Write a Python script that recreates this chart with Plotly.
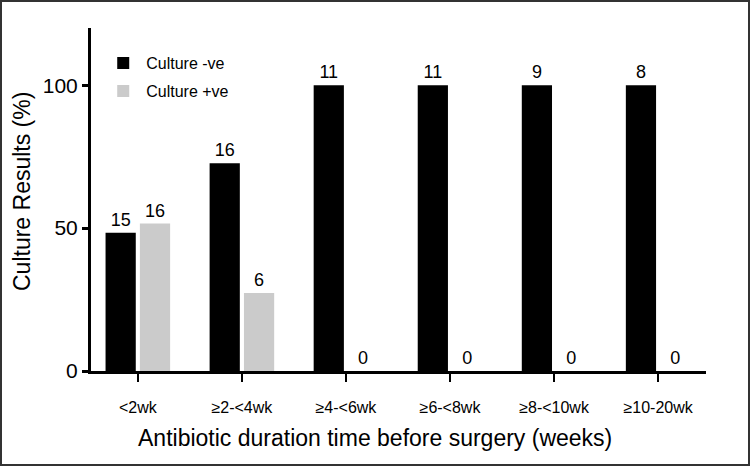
import plotly.graph_objects as go

categories = ["<2wk", "≥2-<4wk", "≥4-<6wk", "≥6-<8wk", "≥8-<10wk", "≥10-20wk"]
neg_counts = [15, 16, 11, 11, 9, 8]
pos_counts = [16, 6, 0, 0, 0, 0]
neg_pct = [48.4, 72.7, 100, 100, 100, 100]
pos_pct = [51.6, 27.3, 0, 0, 0, 0]
x_title = "Antibiotic duration time before surgery (weeks)"
y_title = "Culture Results (%)"

FONT = "Liberation Sans, Arial, sans-serif"

fig = go.Figure()
fig.add_trace(go.Bar(
    x=categories, y=neg_pct, name="Culture -ve", legendgroup="a",
    marker=dict(color="#000000", line=dict(width=0)),
    text=[str(v) for v in neg_counts], textposition="outside",
    textfont=dict(size=18, color="#000000", family=FONT), cliponaxis=False,
))
fig.add_trace(go.Bar(
    x=categories, y=pos_pct, name="Culture +ve", legendgroup="b",
    marker=dict(color="#cbcbcb", line=dict(width=0)),
    text=[str(v) for v in pos_counts], textposition="outside",
    textfont=dict(size=18, color="#000000", family=FONT), cliponaxis=False,
))

L, R, T, B = 91, 44, 28, 95
W, H = 750, 466
pw, ph = W - L - R, H - T - B


def px_x(p):
    return (p - L) / pw


def px_y(p):
    return (H - B - p) / ph


fig.update_layout(
    width=W, height=H,
    margin=dict(l=L, r=R, t=T, b=B, pad=0, autoexpand=False),
    paper_bgcolor="white", plot_bgcolor="white",
    font=dict(family=FONT, color="#000000"),
    barmode="group", bargap=0.34, bargroupgap=0.12,
    showlegend=True,
    legend=dict(x=0.015, y=0.947, xanchor="left", yanchor="top",
                font=dict(size=16, family=FONT), bgcolor="rgba(0,0,0,0)",
                itemwidth=36, tracegroupgap=4, traceorder="grouped"),
    xaxis=dict(
        range=[-0.45, 5.46], showline=True, linecolor="#000000", linewidth=3,
        ticks="outside", ticklen=8, tickwidth=2, tickcolor="#000000",
        tickfont=dict(size=16, family=FONT), ticklabelstandoff=12,
        showgrid=False, zeroline=False, automargin=False,
    ),
    yaxis=dict(
        range=[0, 120], tickvals=[0, 50, 100], showline=True,
        linecolor="#000000", linewidth=3,
        ticks="outside", ticklen=6, tickwidth=3, tickcolor="#000000",
        tickfont=dict(size=21, family=FONT),
        showgrid=False, zeroline=False, automargin=False,
    ),
    annotations=[
        dict(text=x_title, xref="paper", yref="paper", x=px_x(375), y=px_y(438),
             xanchor="center", yanchor="middle", showarrow=False,
             font=dict(size=23, family=FONT, color="#000000")),
        dict(text=y_title, xref="paper", yref="paper", x=px_x(22), y=px_y(192),
             xanchor="center", yanchor="middle", showarrow=False, textangle=-90,
             font=dict(size=23, family=FONT, color="#000000")),
    ],
    shapes=[dict(
        type="rect", xref="paper", yref="paper",
        x0=px_x(1), x1=px_x(W - 1), y0=px_y(H - 1), y1=px_y(1),
        line=dict(color="#333333", width=2), fillcolor="rgba(0,0,0,0)",
    )],
)

fig.write_html("out.html", config={"displayModeBar": False},
               post_script="document.body.style.margin='0';")
